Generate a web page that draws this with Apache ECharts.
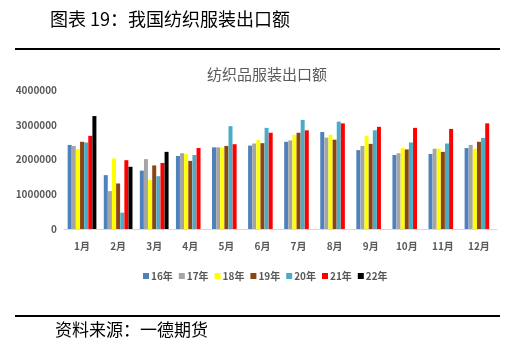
<!DOCTYPE html>
<html><head><meta charset="utf-8">
<script src="https://cdn.jsdelivr.net/npm/echarts@6/dist/echarts.min.js"></script>
<style>html,body{margin:0;padding:0;background:#fff}#c{width:507px;height:347px}</style>
</head><body><div id="c"></div>
<script>
const months = ['1月','2月','3月','4月','5月','6月','7月','8月','9月','10月','11月','12月'];
const seriesNames = ['16年','17年','18年','19年','20年','21年','22年'];
const colors = ['#4F81BD','#A5A5A5','#FFFF00','#8B4513','#4BACC6','#FF0000','#000000'];
const y16 = [2420000,1550000,1680000,2100000,2350000,2400000,2510000,2790000,2270000,2130000,2160000,2330000];
const y17 = [2390000,1090000,2010000,2180000,2350000,2460000,2550000,2630000,2390000,2180000,2310000,2420000];
const y18 = [2300000,2030000,1410000,2160000,2340000,2560000,2710000,2710000,2680000,2330000,2310000,2310000];
const y19 = [2510000,1310000,1830000,1960000,2390000,2470000,2770000,2570000,2450000,2290000,2220000,2510000];
const y20 = [2490000,470000,1520000,2130000,2960000,2910000,3140000,3090000,2840000,2490000,2460000,2620000];
const y21 = [2680000,1980000,1900000,2330000,2440000,2770000,2840000,3040000,2940000,2910000,2880000,3040000];
const y22 = [3250000,1790000,2220000,null,null,null,null,null,null,null,null,null];
const yTicks = [0,1000000,2000000,3000000,4000000];
const allData = [y16,y17,y18,y19,y20,y21,y22];

const chart = echarts.init(document.getElementById('c'));
const FONT = '"Noto Sans CJK SC","Noto Sans",sans-serif';
chart.setOption({
  animation:false,
  textStyle:{fontFamily:FONT},
  title:{text:'纺织品服装出口额',left:262,textAlign:'center',top:62,
    textStyle:{color:'#595959',fontSize:15,fontWeight:'normal',fontFamily:FONT}},
  legend:{data:seriesNames,bottom:61,left:138,itemWidth:6,itemHeight:6,itemGap:6,icon:'rect',
    textStyle:{color:'#595959',fontSize:10,fontWeight:'bold',fontFamily:FONT,padding:[0,0,0,-3]}},
  grid:{left:64,right:10,top:90,bottom:118},
  xAxis:{type:'category',data:months,
    axisLine:{lineStyle:{color:'#D9D9D9'}},axisTick:{show:false},
    axisLabel:{color:'#595959',fontSize:10,fontWeight:'bold',margin:12,fontFamily:FONT}},
  yAxis:{type:'value',min:yTicks[0],max:yTicks[yTicks.length-1],interval:1000000,
    splitLine:{show:false},axisLine:{show:false},axisTick:{show:false},
    axisLabel:{color:'#595959',fontSize:10,fontWeight:'bold',margin:7,fontFamily:FONT,
      formatter:v=>String(v)}},
  series: seriesNames.map((n,i)=>({name:n,type:'bar',data:allData[i],barWidth:4,barGap:'3%',
    itemStyle:{color:colors[i]}})),
  graphic:[
    {type:'text',left:50,top:10,style:{text:'图表 19：我国纺织服装出口额',fill:'#000',font:'18px '+FONT}},
    {type:'rect',shape:{x:15,y:48,width:485,height:2},style:{fill:'#000'}},
    {type:'rect',shape:{x:15,y:315,width:485,height:2},style:{fill:'#000'}},
    {type:'text',left:55,top:321,style:{text:'资料来源：一德期货',fill:'#000',font:'17px '+FONT}}
  ]
});
</script></body></html>
